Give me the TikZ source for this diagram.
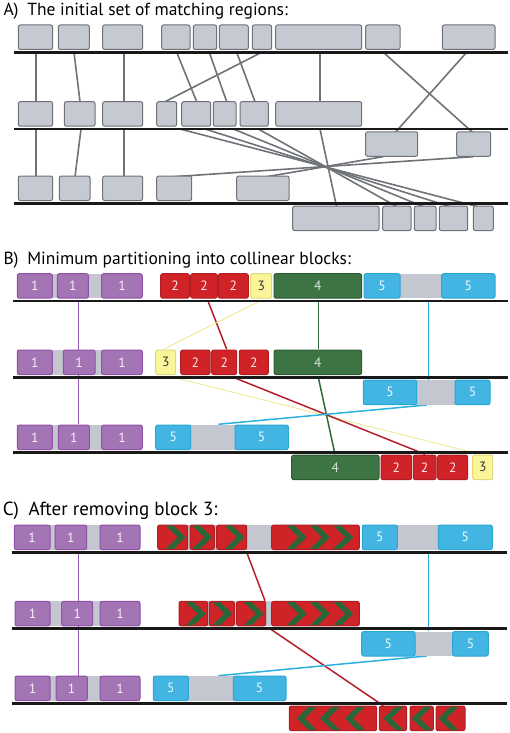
\documentclass[tikz,border=0pt]{standalone}
\usepackage{fontspec}
\setmainfont{PT Sans}
\definecolor{agray}{HTML}{C5C9D2}
\definecolor{aborder}{HTML}{6E7176}
\definecolor{conn}{HTML}{6F7378}
\definecolor{bgray}{HTML}{C4C7CF}
\definecolor{pfill}{HTML}{A375B5}
\definecolor{pdraw}{HTML}{9050A8}
\definecolor{rfill}{HTML}{D02328}
\definecolor{rdraw}{HTML}{B01E24}
\definecolor{yfill}{HTML}{FBF59A}
\definecolor{ydraw}{HTML}{E3D87A}
\definecolor{gfill}{HTML}{3D7443}
\definecolor{gdraw}{HTML}{2C5A32}
\definecolor{bfill}{HTML}{42B5E2}
\definecolor{bdraw}{HTML}{2BA5D6}
\definecolor{chev}{HTML}{2A6638}
\definecolor{pline}{HTML}{9B5CB4}
\definecolor{rline}{HTML}{B5202A}
\definecolor{gline}{HTML}{2F6B3A}
\definecolor{bline}{HTML}{2BB0DF}
\definecolor{yline}{HTML}{EDE68A}
\tikzset{
  box/.style={rounded corners=2pt, inner sep=0pt, outer sep=0pt, line width=1pt, font=\fontsize{13.5}{13.5}\selectfont},
  abox/.style={box, fill=agray, draw=aborder},
  pbox/.style={box, fill=pfill, draw=pdraw, text=white!90!pfill},
  rbox/.style={box, fill=rfill, draw=rdraw, text=white!90!rfill},
  ybox/.style={box, fill=yfill, draw=ydraw, text=black!80},
  gbox/.style={box, fill=gfill, draw=gdraw, text=white!80!gfill},
  bbox/.style={box, fill=bfill, draw=bdraw, text=white!92!bfill},
  chromo/.style={line width=2.6pt, black!90},
  aconn/.style={conn, line width=1.6pt},
  pconn/.style={pline, line width=1.5pt},
  rconn/.style={rline, line width=1.5pt},
  gconn/.style={gline, line width=1.5pt},
  bconn/.style={bline, line width=1.5pt},
  yconn/.style={yline, line width=0.8pt},
  title/.style={anchor=base west, font=\fontsize{17.5}{17.5}\selectfont, inner sep=0pt}
}
% upper box: name, style, x1, x2, L, label
\newcommand\ub[6]{%
  \pgfmathsetmacro\bxc{(#3+#4)/2}%
  \pgfmathsetmacro\bxw{#4-#3}%
  \pgfmathsetmacro\bxy{#5-15.05}%
  \node[#2, minimum width=\bxw pt, minimum height=24.5pt] (#1) at (\bxc,\bxy) {#6};}
% lower box
\newcommand\lb[6]{%
  \pgfmathsetmacro\bxc{(#3+#4)/2}%
  \pgfmathsetmacro\bxw{#4-#3}%
  \pgfmathsetmacro\bxy{#5+15.05}%
  \node[#2, minimum width=\bxw pt, minimum height=24.5pt] (#1) at (\bxc,\bxy) {#6};}
% gray backgrounds
\newcommand\ubg[3]{\fill[bgray] (#1,#3-27.3) rectangle (#2,#3-2.8);}
\newcommand\lbg[3]{\fill[bgray] (#1,#3+2.8) rectangle (#2,#3+27.3);}
% chevrons: x, top
\newcommand\chR[2]{\fill[chev] (#1,#2+0.7) -- ++(8,0) -- ++(12,11.55) -- ++(-12,11.55) -- ++(-8,0) -- ++(12,-11.55) -- cycle;}
\newcommand\chL[2]{\fill[chev] (#1+20,#2+0.7) -- ++(-8,0) -- ++(-12,11.55) -- ++(12,11.55) -- ++(8,0) -- ++(-12,-11.55) -- cycle;}
% connector: style, name, x1,y1,x2,y2
\newcommand\cn[6]{\coordinate (#2s) at (#3,#4); \coordinate (#2e) at (#5,#6); \draw[#1] (#2s) -- (#2e);}
\begin{document}
\begin{tikzpicture}[x=1pt,y=-1pt]
\useasboundingbox (0,0) rectangle (510,733);
% ---------------- Panel A connectors
\cn{aconn}{ca1}{36}{52.3}{36}{101.7}
\cn{aconn}{ca2}{74}{52.3}{80}{101.7}
\cn{aconn}{ca3}{124}{52.3}{124}{101.7}
\cn{aconn}{ca4}{176.7}{52.3}{196.7}{101.7}
\cn{aconn}{ca5}{209.3}{52.3}{226.7}{101.7}
\cn{aconn}{ca6}{236.7}{52.3}{255}{101.7}
\cn{aconn}{ca7}{261.7}{52.3}{165}{101.7}
\cn{aconn}{ca8}{320}{52.3}{320}{101.7}
\cn{aconn}{ca9}{383.3}{52.3}{473}{132.7}
\cn{aconn}{ca10}{466.7}{52.3}{395}{132.7}
\cn{aconn}{cb1}{36}{129}{36}{176.7}
\cn{aconn}{cb2}{81}{129}{75}{176.7}
\cn{aconn}{cb3}{124}{129}{124}{176.7}
\cn{aconn}{cb4}{180}{129}{480}{207.3}
\cn{aconn}{cb5}{205}{129}{452}{207.3}
\cn{aconn}{cb6}{233.3}{129}{425}{207.3}
\cn{aconn}{cb7}{258.3}{129}{398}{207.3}
\cn{aconn}{cb8}{320}{129}{336.7}{207.3}
\cn{aconn}{cb9}{383}{156.7}{266.7}{176.7}
\cn{aconn}{cb10}{473}{156.7}{173.3}{176.7}
% ---------------- Panel A boxes
\ub{a11}{abox}{18.3}{52.7}{52.3}{}
\ub{a12}{abox}{58.3}{89.3}{52.3}{}
\ub{a13}{abox}{102.7}{142.7}{52.3}{}
\ub{a14}{abox}{161.7}{190}{52.3}{}
\ub{a15}{abox}{193.3}{216.7}{52.3}{}
\ub{a16}{abox}{219.3}{248.3}{52.3}{}
\ub{a17}{abox}{252.3}{271.7}{52.3}{}
\ub{a18}{abox}{275.7}{361.7}{52.3}{}
\ub{a19}{abox}{365.7}{400}{52.3}{}
\ub{a110}{abox}{442.3}{495}{52.3}{}
\ub{a21}{abox}{18.3}{52.7}{129}{}
\ub{a22}{abox}{64.3}{95}{129}{}
\ub{a23}{abox}{102.7}{142.7}{129}{}
\ub{a24}{abox}{156.7}{176.7}{129}{}
\ub{a25}{abox}{181.7}{210.7}{129}{}
\ub{a26}{abox}{213.3}{236}{129}{}
\ub{a27}{abox}{240}{268.3}{129}{}
\ub{a28}{abox}{275.7}{361.7}{129}{}
\lb{a29}{abox}{365.7}{417.7}{129}{}
\lb{a210}{abox}{456.7}{490.7}{129}{}
\ub{a31}{abox}{18.3}{52.7}{203.3}{}
\ub{a32}{abox}{59.3}{90}{203.3}{}
\ub{a33}{abox}{102.7}{142.7}{203.3}{}
\ub{a34}{abox}{156.7}{191.7}{203.3}{}
\ub{a35}{abox}{236.7}{289}{203.3}{}
\lb{a36}{abox}{292.7}{379}{203.3}{}
\lb{a37}{abox}{382.7}{411}{203.3}{}
\lb{a38}{abox}{414.3}{436}{203.3}{}
\lb{a39}{abox}{439.3}{467.7}{203.3}{}
\lb{a310}{abox}{473.3}{493.3}{203.3}{}
% ---------------- Panel B connectors
\cn{pconn}{cp1}{78.3}{301}{78.3}{424.3}
\cn{rconn}{cr1}{208}{301}{226.7}{349.3}
\cn{yconn}{cy1}{260}{301}{163.3}{349.3}
\cn{gconn}{cg1}{318.3}{301}{318.3}{349.3}
\cn{bconn}{cl1}{428.3}{301}{428.3}{380}
\cn{yconn}{cy2}{173.3}{377.3}{480}{454.3}
\cn{rconn}{cr2}{233.3}{377.3}{425}{454.3}
\cn{gconn}{cg2}{318.3}{377.3}{335}{454.3}
\cn{bconn}{cl2}{426.7}{405}{218.3}{424.3}
% ---------------- Panel B boxes
\ubg{17.3}{142.3}{301}
\ubg{364}{495}{301}
\ub{b11}{pbox}{17.3}{52.3}{301}{1}
\ub{b12}{pbox}{57.3}{88.3}{301}{1}
\ub{b13}{pbox}{101.7}{142.3}{301}{1}
\ub{b14}{rbox}{160.7}{189.3}{301}{2}
\ub{b15}{rbox}{190.7}{217.3}{301}{2}
\ub{b16}{rbox}{218.3}{248.3}{301}{2}
\ub{b17}{ybox}{250.7}{271.7}{301}{3}
\ub{b18}{gbox}{274}{361.7}{301}{4}
\ub{b19}{bbox}{364}{400}{301}{5}
\ub{b110}{bbox}{441.7}{495}{301}{5}
\ubg{17.3}{142.3}{377.3}
\ub{b21}{pbox}{17.3}{52.3}{377.3}{1}
\ub{b22}{pbox}{63.3}{95}{377.3}{1}
\ub{b23}{pbox}{101.7}{142.3}{377.3}{1}
\ub{b24}{ybox}{155.7}{175.7}{377.3}{3}
\ub{b25}{rbox}{180.7}{210}{377.3}{2}
\ub{b26}{rbox}{211.7}{236.7}{377.3}{2}
\ub{b27}{rbox}{239.3}{268.3}{377.3}{2}
\ub{b28}{gbox}{274}{361.7}{377.3}{4}
\lbg{363.3}{490}{377.3}
\lb{b29}{bbox}{363.3}{416.7}{377.3}{5}
\lb{b210}{bbox}{455}{490}{377.3}{5}
\ubg{17.3}{142.3}{452.3}
\ubg{155.7}{288.3}{452.3}
\ub{b31}{pbox}{17.3}{52.3}{452.3}{1}
\ub{b32}{pbox}{58.3}{89.3}{452.3}{1}
\ub{b33}{pbox}{101.7}{142.3}{452.3}{1}
\ub{b34}{bbox}{155.7}{190.7}{452.3}{5}
\ub{b35}{bbox}{235}{288.3}{452.3}{5}
\lb{b36}{gbox}{291.7}{379}{452.3}{4}
\lb{b37}{rbox}{381}{411.7}{452.3}{2}
\lb{b38}{rbox}{413.3}{436}{452.3}{2}
\lb{b39}{rbox}{437.7}{467.7}{452.3}{2}
\lb{b310}{ybox}{472.7}{492.7}{452.3}{3}
% ---------------- Panel C connectors
\cn{pconn}{dp1}{78.3}{552.3}{78.3}{675.7}
\cn{rconn}{dr1}{246.7}{552.3}{265}{600.7}
\cn{rconn}{dr2}{270}{628.7}{383.3}{705.7}
\cn{bconn}{dl1}{428.3}{552.3}{428.3}{631}
\cn{bconn}{dl2}{426.7}{656}{218.3}{675.7}
% ---------------- Panel C boxes
\ubg{14.3}{140}{552.3}
\ubg{157.7}{359.3}{552.3}
\ubg{362.3}{492.3}{552.3}
\ub{c11}{pbox}{14.3}{50}{552.3}{1}
\ub{c12}{pbox}{55}{86.7}{552.3}{1}
\ub{c13}{pbox}{100}{140}{552.3}{1}
\ub{c14}{rbox}{157.7}{187.7}{552.3}{}
\ub{c15}{rbox}{190}{214.3}{552.3}{}
\ub{c16}{rbox}{216.7}{246.7}{552.3}{}
\ub{c17}{rbox}{271.7}{359.3}{552.3}{}
\ub{c18}{bbox}{362.3}{397.3}{552.3}{5}
\ub{c19}{bbox}{438.3}{492.3}{552.3}{5}
\chR{165.7}{525}
\chR{192.3}{525}
\chR{224.7}{525}
\chR{286.7}{525}
\chR{310}{525}
\chR{333.3}{525}
\ubg{15}{140}{628.7}
\ubg{179}{359.3}{628.7}
\ub{c21}{pbox}{15}{50}{628.7}{1}
\ub{c22}{pbox}{61.7}{92.7}{628.7}{1}
\ub{c23}{pbox}{100}{140}{628.7}{1}
\ub{c24}{rbox}{179}{207.7}{628.7}{}
\ub{c25}{rbox}{209.3}{234.3}{628.7}{}
\ub{c26}{rbox}{236.7}{265.7}{628.7}{}
\ub{c27}{rbox}{271.7}{359.3}{628.7}{}
\chR{185.7}{601.4}
\chR{212.3}{601.4}
\chR{243.7}{601.4}
\chR{286.7}{601.4}
\chR{310}{601.4}
\chR{333.3}{601.4}
\lbg{361.7}{488.3}{628.7}
\lb{c28}{bbox}{361.7}{415}{628.7}{5}
\lb{c29}{bbox}{452.7}{488.3}{628.7}{5}
\ubg{15}{140}{703.3}
\ubg{153.3}{286}{703.3}
\ub{c31}{pbox}{15}{50}{703.3}{1}
\ub{c32}{pbox}{56}{87.3}{703.3}{1}
\ub{c33}{pbox}{100}{140}{703.3}{1}
\ub{c34}{bbox}{153.3}{188.3}{703.3}{5}
\ub{c35}{bbox}{233.3}{286}{703.3}{5}
\lb{c36}{rbox}{289.3}{376.7}{703.3}{}
\lb{c37}{rbox}{379.3}{406.7}{703.3}{}
\lb{c38}{rbox}{410}{433.3}{703.3}{}
\lb{c39}{rbox}{436}{465}{703.3}{}
\chL{296.7}{706.1}
\chL{320}{706.1}
\chL{345}{706.1}
\chL{383.3}{706.1}
\chL{411.7}{706.1}
\chL{438.3}{706.1}
% ---------------- chromosome lines
\draw[chromo] (14,52.3) -- (508,52.3);
\draw[chromo] (14,129) -- (508,129);
\draw[chromo] (14,203.3) -- (508,203.3);
\draw[chromo] (13.3,301) -- (508,301);
\draw[chromo] (13.3,377.3) -- (508,377.3);
\draw[chromo] (13.3,452.3) -- (508,452.3);
\draw[chromo] (11.7,552.3) -- (507,552.3);
\draw[chromo] (11.7,628.7) -- (507,628.7);
\draw[chromo] (11.7,703.3) -- (507,703.3);
% ---------------- titles
\node[title] (tA) at (3.3,16) {A)\hspace{0.5em}The initial set of matching regions:};
\node[title] (tB) at (3.3,264) {B)\hspace{0.5em}Minimum partitioning into collinear blocks:};
\node[title, font=\fontsize{19}{19}\selectfont] (tC) at (2.7,515) {C)\hspace{0.5em}After removing block 3:};
\end{tikzpicture}
\end{document}
